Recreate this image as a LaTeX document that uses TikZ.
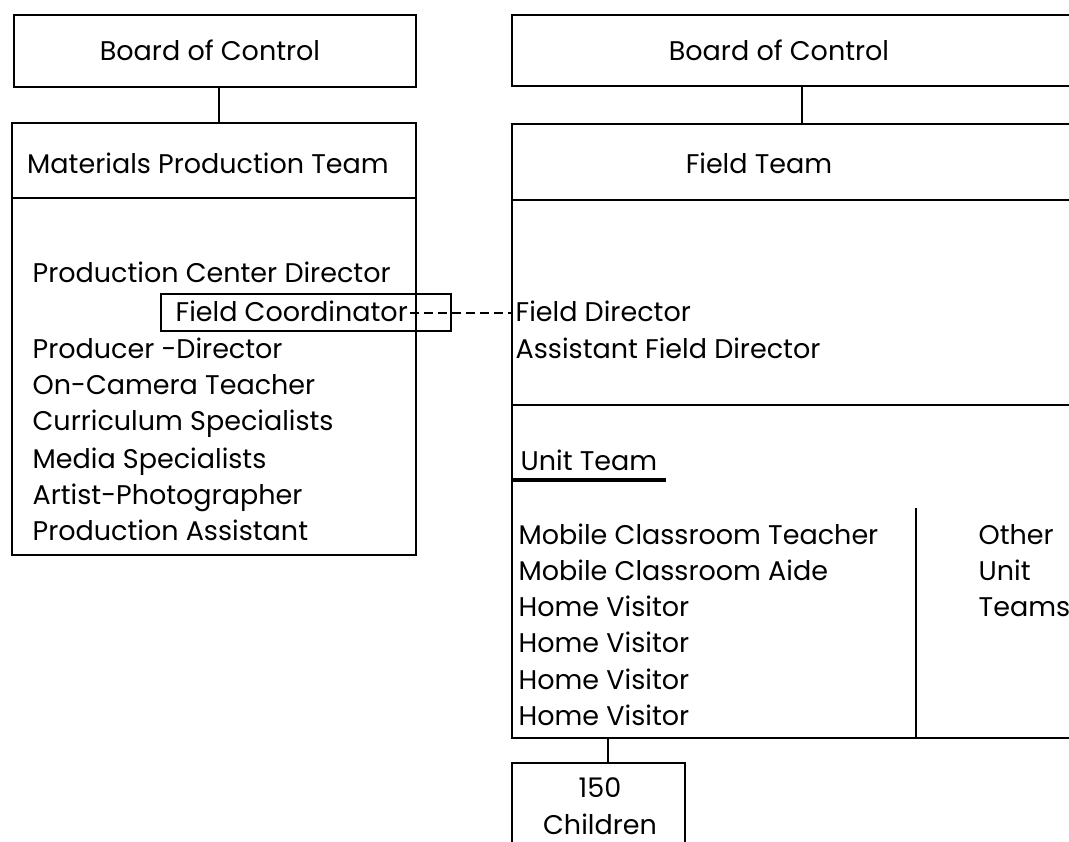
\documentclass[tikz,border=0pt]{standalone}
\usepackage{fontspec}
\setmainfont{Poppins}
\begin{document}
\begin{tikzpicture}[x=1pt,y=-1pt, line width=1.3pt,
  box/.style={draw, inner sep=0pt, outer sep=0pt},
  txt/.style={inner sep=0pt, font=\fontsize{27}{32}\selectfont},
  item/.style={txt, anchor=base west},
  title/.style={txt, anchor=base},
  dashconn/.style={dash pattern=on 9pt off 5pt}]
\useasboundingbox (0,0) rectangle (1069,842);
\clip (0,0) rectangle (1069,842);

% ---------- left column ----------
\node[box, minimum width=402, minimum height=72] (b1) at (215,51) {};
\node[title] (b1t) at (210,61) {Board of Control};
\node[box, minimum width=404, minimum height=432] (mp) at (214,339) {};
\node[title] (mpt) at (208,174) {Materials Production Team};
\coordinate (c1) at (219,0);
\draw (b1.south -| c1) -- (mp.north -| c1);
\coordinate (d1) at (0,198);
\draw (mp.west |- d1) -- (mp.east |- d1);

\node[item] (l1) at (32,283) {Production Center Director};
\node[box, minimum width=290, minimum height=37] (fcbox) at (306,312.5) {};
\node[item] (fc) at (175,322) {Field Coordinator};
\node[item] (l2) at (32,359) {Producer -Director};
\node[item] (l3) at (32,395) {On-Camera Teacher};
\node[item] (l4) at (32,431) {Curriculum Specialists};
\node[item] (l5) at (32,468) {Media Specialists};
\node[item] (l6) at (32,504) {Artist-Photographer};
\node[item] (l7) at (32,540) {Production Assistant};

% ---------- right column ----------
\node[box, minimum width=600, minimum height=71] (b2) at (812,50.5) {};
\node[title] (b2t) at (779,61) {Board of Control};
\node[box, minimum width=600, minimum height=614] (ft) at (812,431) {};
\node[title] (ftt) at (759,174) {Field Team};
\coordinate (c2) at (802,0);
\draw (b2.south -| c2) -- (ft.north -| c2);
\coordinate (d2) at (0,200);
\coordinate (d3) at (0,405);
\draw (ft.west |- d2) -- (ft.east |- d2);
\draw (ft.west |- d3) -- (ft.east |- d3);

\node[item] (fd) at (515,322) {Field Director};
\node[item] (afd) at (515,359) {Assistant Field Director};
\coordinate (fcend) at ([xshift=2pt]fc.east |- 0,313);
\draw[dashconn] (fcend) -- (fcend -| ft.west);

\node[item] (ut) at (520,470) {Unit Team};
\coordinate (u1) at (513,480);
\coordinate (u2) at (666,480);
\draw[line width=3.5pt] (u1) -- (u2);

\node[item] (r1) at (518,544) {Mobile Classroom Teacher};
\node[item] (r2) at (518,580) {Mobile Classroom Aide};
\node[item] (r3) at (518,616) {Home Visitor};
\node[item] (r4) at (518,652) {Home Visitor};
\node[item] (r5) at (518,689) {Home Visitor};
\node[item] (r6) at (518,725) {Home Visitor};

\coordinate (v1) at (916,508);
\draw (v1) -- (v1 |- ft.south);
\node[item] (o1) at (978,544) {Other};
\node[item] (o2) at (978,580) {Unit};
\node[item] (o3) at (978,616) {Teams};

\node[box, minimum width=173, minimum height=97] (ch) at (598.5,811.5) {};
\node[title] (ch1) at (600,797) {150};
\node[title] (ch2) at (600,834) {Children};
\coordinate (c3) at (608,0);
\draw (ft.south -| c3) -- (ch.north -| c3);
\end{tikzpicture}
\end{document}
